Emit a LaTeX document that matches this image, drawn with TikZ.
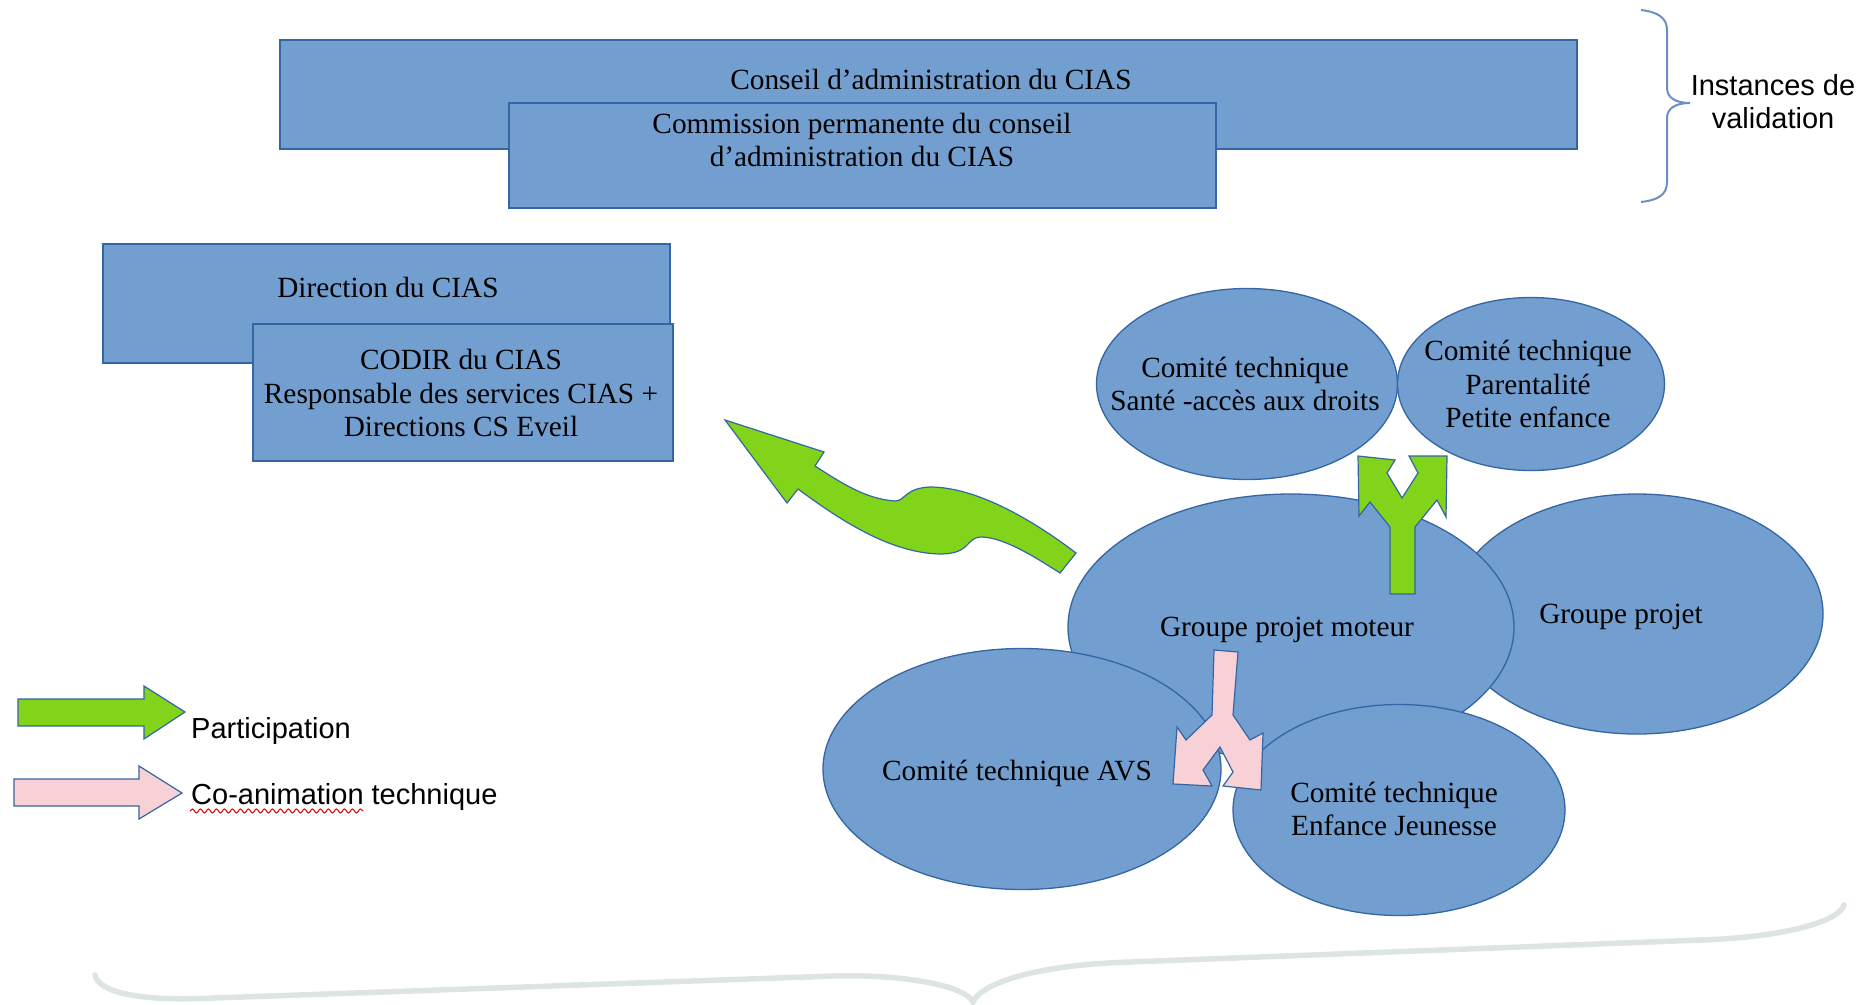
\documentclass[tikz,border=0pt]{standalone}
\usepackage{fontspec}
\setmainfont{Liberation Serif}
\newfontfamily\legendfont{Liberation Sans}
\usetikzlibrary{shapes.geometric,decorations.pathmorphing}

\definecolor{boxblue}{HTML}{729FCF}
\definecolor{edgeblue}{HTML}{3465A4}
\definecolor{leafgreen}{HTML}{81D41A}
\definecolor{softpink}{HTML}{F7D1D5}
\definecolor{bracegray}{HTML}{DDE5E3}
\definecolor{braceblue}{HTML}{6A8FC4}

\begin{document}
\begin{tikzpicture}[x=1pt,y=-1pt,
  panel/.style={draw=edgeblue, fill=boxblue, line width=1.3pt, rectangle, inner sep=0pt},
  bubble/.style={draw=edgeblue, fill=boxblue, line width=1.3pt, ellipse, inner sep=0pt},
  caption/.style={inner sep=0pt, align=center, font=\fontsize{29.3}{33.5}\selectfont},
  legendtext/.style={inner sep=0pt, align=center, font=\legendfont\fontsize{29}{33}\selectfont},
  flow/.style={draw=edgeblue, line width=1.2pt, line join=miter},
]
\useasboundingbox (0,0) rectangle (1865,1004);

% validation bodies
\node[panel, minimum width=1297pt, minimum height=109pt] (conseil) at (928.5,94.5) {};
\node[caption] (conseil-t) at (931,79) {Conseil d’administration du CIAS};
\node[panel, minimum width=707pt, minimum height=105pt] (commission) at (862.5,155.5) {};
\node[caption] (commission-t) at (862,140) {Commission permanente du conseil\\d’administration du CIAS};

% brace grouping the validation bodies
\draw[braceblue, line width=2pt] (1641,10) .. controls (1658,12) and (1667,18) .. (1667,30)
  -- (1667,88) .. controls (1667,98) and (1676,103) .. (1690,103)
  .. controls (1676,103) and (1667,108) .. (1667,118)
  -- (1667,182) .. controls (1667,195) and (1658,200) .. (1641,202);
\node[legendtext] (instances) at (1773,102) {Instances de\\validation};

% management
\node[panel, minimum width=567pt, minimum height=119pt] (direction) at (386.5,303.5) {};
\node[caption] (direction-t) at (388,287) {Direction du CIAS};
\node[panel, minimum width=420pt, minimum height=137pt] (codir) at (463,392.5) {};
\node[caption] (codir-t) at (461,393) {CODIR du CIAS\\Responsable des services CIAS +\\Directions CS Eveil};

% working groups
\node[bubble, minimum width=372pt, minimum height=240pt] (gp) at (1637,614) {};
\node[caption] (gp-t) at (1621,617) {Groupe projet};
\node[bubble, minimum width=446pt, minimum height=266pt] (moteur) at (1291,627) {};
\node[caption] (moteur-t) at (1287,630) {Groupe projet moteur};
\node[bubble, minimum width=398pt, minimum height=241pt] (avs) at (1022,769) {};
\node[caption] (avs-t) at (1017,773) {Comité technique AVS};
\node[bubble, minimum width=332pt, minimum height=211pt] (enfance) at (1399,810) {};
\node[caption] (enfance-t) at (1394,809) {Comité technique\\Enfance Jeunesse};
\node[bubble, minimum width=301pt, minimum height=191pt] (sante) at (1247,384) {};
\node[caption] (sante-t) at (1245,384) {Comité technique\\Santé -accès aux droits};
\node[bubble, minimum width=267pt, minimum height=173pt] (parent) at (1531,384) {};
\node[caption] (parent-t) at (1528,384) {Comité technique\\Parentalité\\Petite enfance};

% participation: split arrow up to the two committees
\draw[flow, fill=leafgreen] (1390,594) -- (1390,527) -- (1370,502) -- (1359,516) -- (1358,456)
  -- (1395,460) -- (1387,473) -- (1402,498) -- (1418,473) -- (1409,456) -- (1447,456)
  -- (1446,517) -- (1437,500) -- (1415,527) -- (1415,594) -- cycle;

% participation: curved arrow towards management
\draw[flow, fill=leafgreen] (815,466) .. controls (840,482) and (865,499) .. (895,501)
  .. controls (905,501) and (905,488) .. (930,487)
  .. controls (975,487) and (1030,518) .. (1076,553) -- (1060,573)
  .. controls (1035,557) and (1005,538) .. (982,537)
  .. controls (965,537) and (972,554) .. (940,554)
  .. controls (890,553) and (840,520) .. (798,489)
  -- (787,503) -- (725,420) -- (824,452) -- cycle;

% technical co-animation: split arrow down to the two committees
\draw[flow, fill=softpink] (1214,650) -- (1238,652) -- (1233,715) -- (1250,740) -- (1263,733)
  -- (1261,790) -- (1223,786) -- (1233,772) -- (1220,747) -- (1203,770) -- (1212,786)
  -- (1173,784) -- (1177,727) -- (1186,740) -- (1212,715) -- cycle;

% legend
\draw[flow, fill=leafgreen] (18,699) -- (144,699) -- (144,686) -- (185,712) -- (144,739)
  -- (144,726) -- (18,726) -- cycle;
\node[legendtext, anchor=base west] (participation) at (191,738) {Participation};
\draw[flow, fill=softpink] (14,779) -- (139,779) -- (139,766) -- (182,793) -- (139,819)
  -- (139,806) -- (14,806) -- cycle;
\node[legendtext, anchor=base west] (coanim) at (191,804) {Co-animation technique};
\draw[red!85!black, line width=1pt, decorate, decoration={snake, amplitude=2pt, segment length=8pt}]
  (190,811) -- (363,811);

% brace under the whole set of groups
\draw[bracegray, line width=5.5pt, line cap=round] (95,975) .. controls (98,990) and (130,1002) .. (214,998)
  -- (833,976) .. controls (900,974) and (965,985) .. (973,1002)
  .. controls (980,985) and (1030,965) .. (1130,962)
  -- (1701,940) .. controls (1790,937) and (1840,920) .. (1844,905);
\end{tikzpicture}
\end{document}
